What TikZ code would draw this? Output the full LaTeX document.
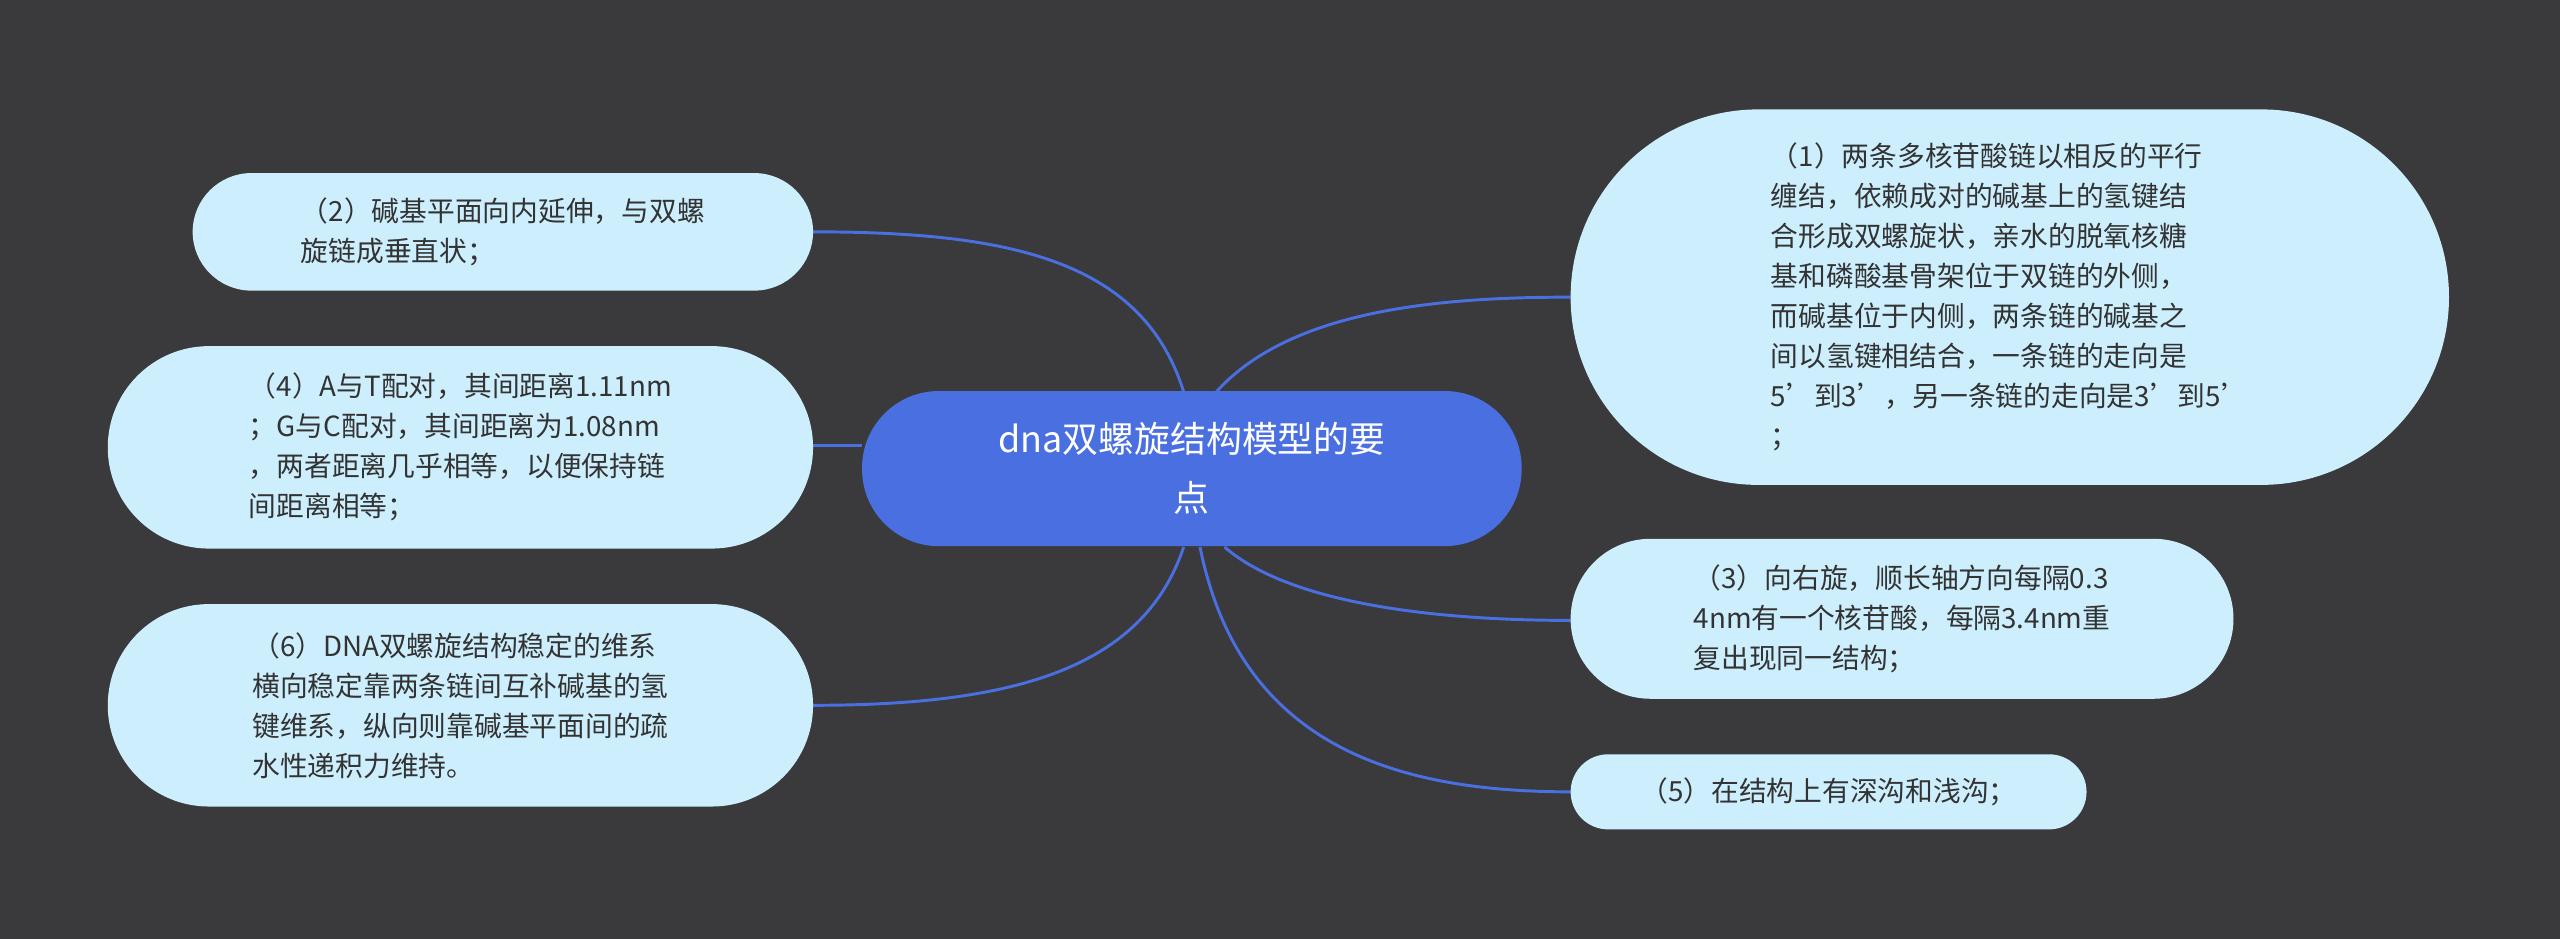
\documentclass[tikz,border=0pt]{standalone}
\usepackage{fontspec}
\setmainfont{Noto Sans CJK SC}
\begin{document}
\begin{tikzpicture}[x=1pt,y=-1pt,
  leaf/.style={fill=leafc,text=txtc,align=left,inner sep=0pt,font=\fontsize{17}{24.5}\selectfont},
  link/.style={draw=linkc,line width=1.8pt}]
\definecolor{bgc}{HTML}{3A393B}
\definecolor{leafc}{HTML}{CDEFFD}
\definecolor{txtc}{HTML}{333333}
\definecolor{linkc}{HTML}{4A6FE0}
\definecolor{cenc}{HTML}{4A6FE0}
\fill[bgc] (0,0) rectangle (1568,575);
\useasboundingbox (0,0) rectangle (1568,575);
% connectors first
\coordinate (c1) at (725,240);
\coordinate (c2) at (528,273);
\coordinate (c3) at (725,335);
\coordinate (c4) at (745,240);
\coordinate (c5) at (750,335);
\coordinate (c6) at (735,335);
\coordinate (l2) at (498,142);
\coordinate (l4) at (498,273);
\coordinate (l6) at (498,432);
\coordinate (r1) at (962,182);
\coordinate (r3) at (962,380);
\coordinate (r5) at (962,485);
\draw[link] (c1) .. controls (700,160) and (620,142) .. (l2);
\draw[link] (c2) -- (l4);
\draw[link] (c3) .. controls (700,410) and (620,432) .. (l6);
\draw[link] (c4) .. controls (790,190) and (880,182) .. (r1);
\draw[link] (c5) .. controls (790,370) and (880,380) .. (r3);
\draw[link] (c6) .. controls (760,460) and (860,485) .. (r5);
% leaves
\node[leaf,minimum width=538,minimum height=230,rounded corners=115] (n1) at (1231,182)
 {（1）两条多核苷酸链以相反的平行\\缠结，依赖成对的碱基上的氢键结\\合形成双螺旋状，亲水的脱氧核糖\\基和磷酸基骨架位于双链的外侧，\\而碱基位于内侧，两条链的碱基之\\间以氢键相结合，一条链的走向是\\5’到3’，另一条链的走向是3’到5’\\；};
\node[leaf,minimum width=406,minimum height=98,rounded corners=49] (n3) at (1165,379)
 {（3）向右旋，顺长轴方向每隔0.3\\4nm有一个核苷酸，每隔3.4nm重\\复出现同一结构；};
\node[leaf,minimum width=316,minimum height=46,rounded corners=23] (n5) at (1120,485)
 {（5）在结构上有深沟和浅沟；};
\node[leaf,minimum width=380,minimum height=72,rounded corners=36] (n2) at (308,142)
 {（2）碱基平面向内延伸，与双螺\\旋链成垂直状；};
\node[leaf,minimum width=432,minimum height=124,rounded corners=62] (n4) at (282,274)
 {（4）A与T配对，其间距离1.11nm\\；G与C配对，其间距离为1.08nm\\，两者距离几乎相等，以便保持链\\间距离相等；};
\node[leaf,minimum width=432,minimum height=124,rounded corners=62] (n6) at (282,432)
 {（6）DNA双螺旋结构稳定的维系\\横向稳定靠两条链间互补碱基的氢\\键维系，纵向则靠碱基平面间的疏\\水性递积力维持。};
\node[fill=cenc,text=white,align=center,inner sep=0pt,minimum width=404,minimum height=95,rounded corners=47,font=\fontsize{22}{36}\selectfont] (c) at (730,287)
 {dna双螺旋结构模型的要\\点};
\end{tikzpicture}
\end{document}
